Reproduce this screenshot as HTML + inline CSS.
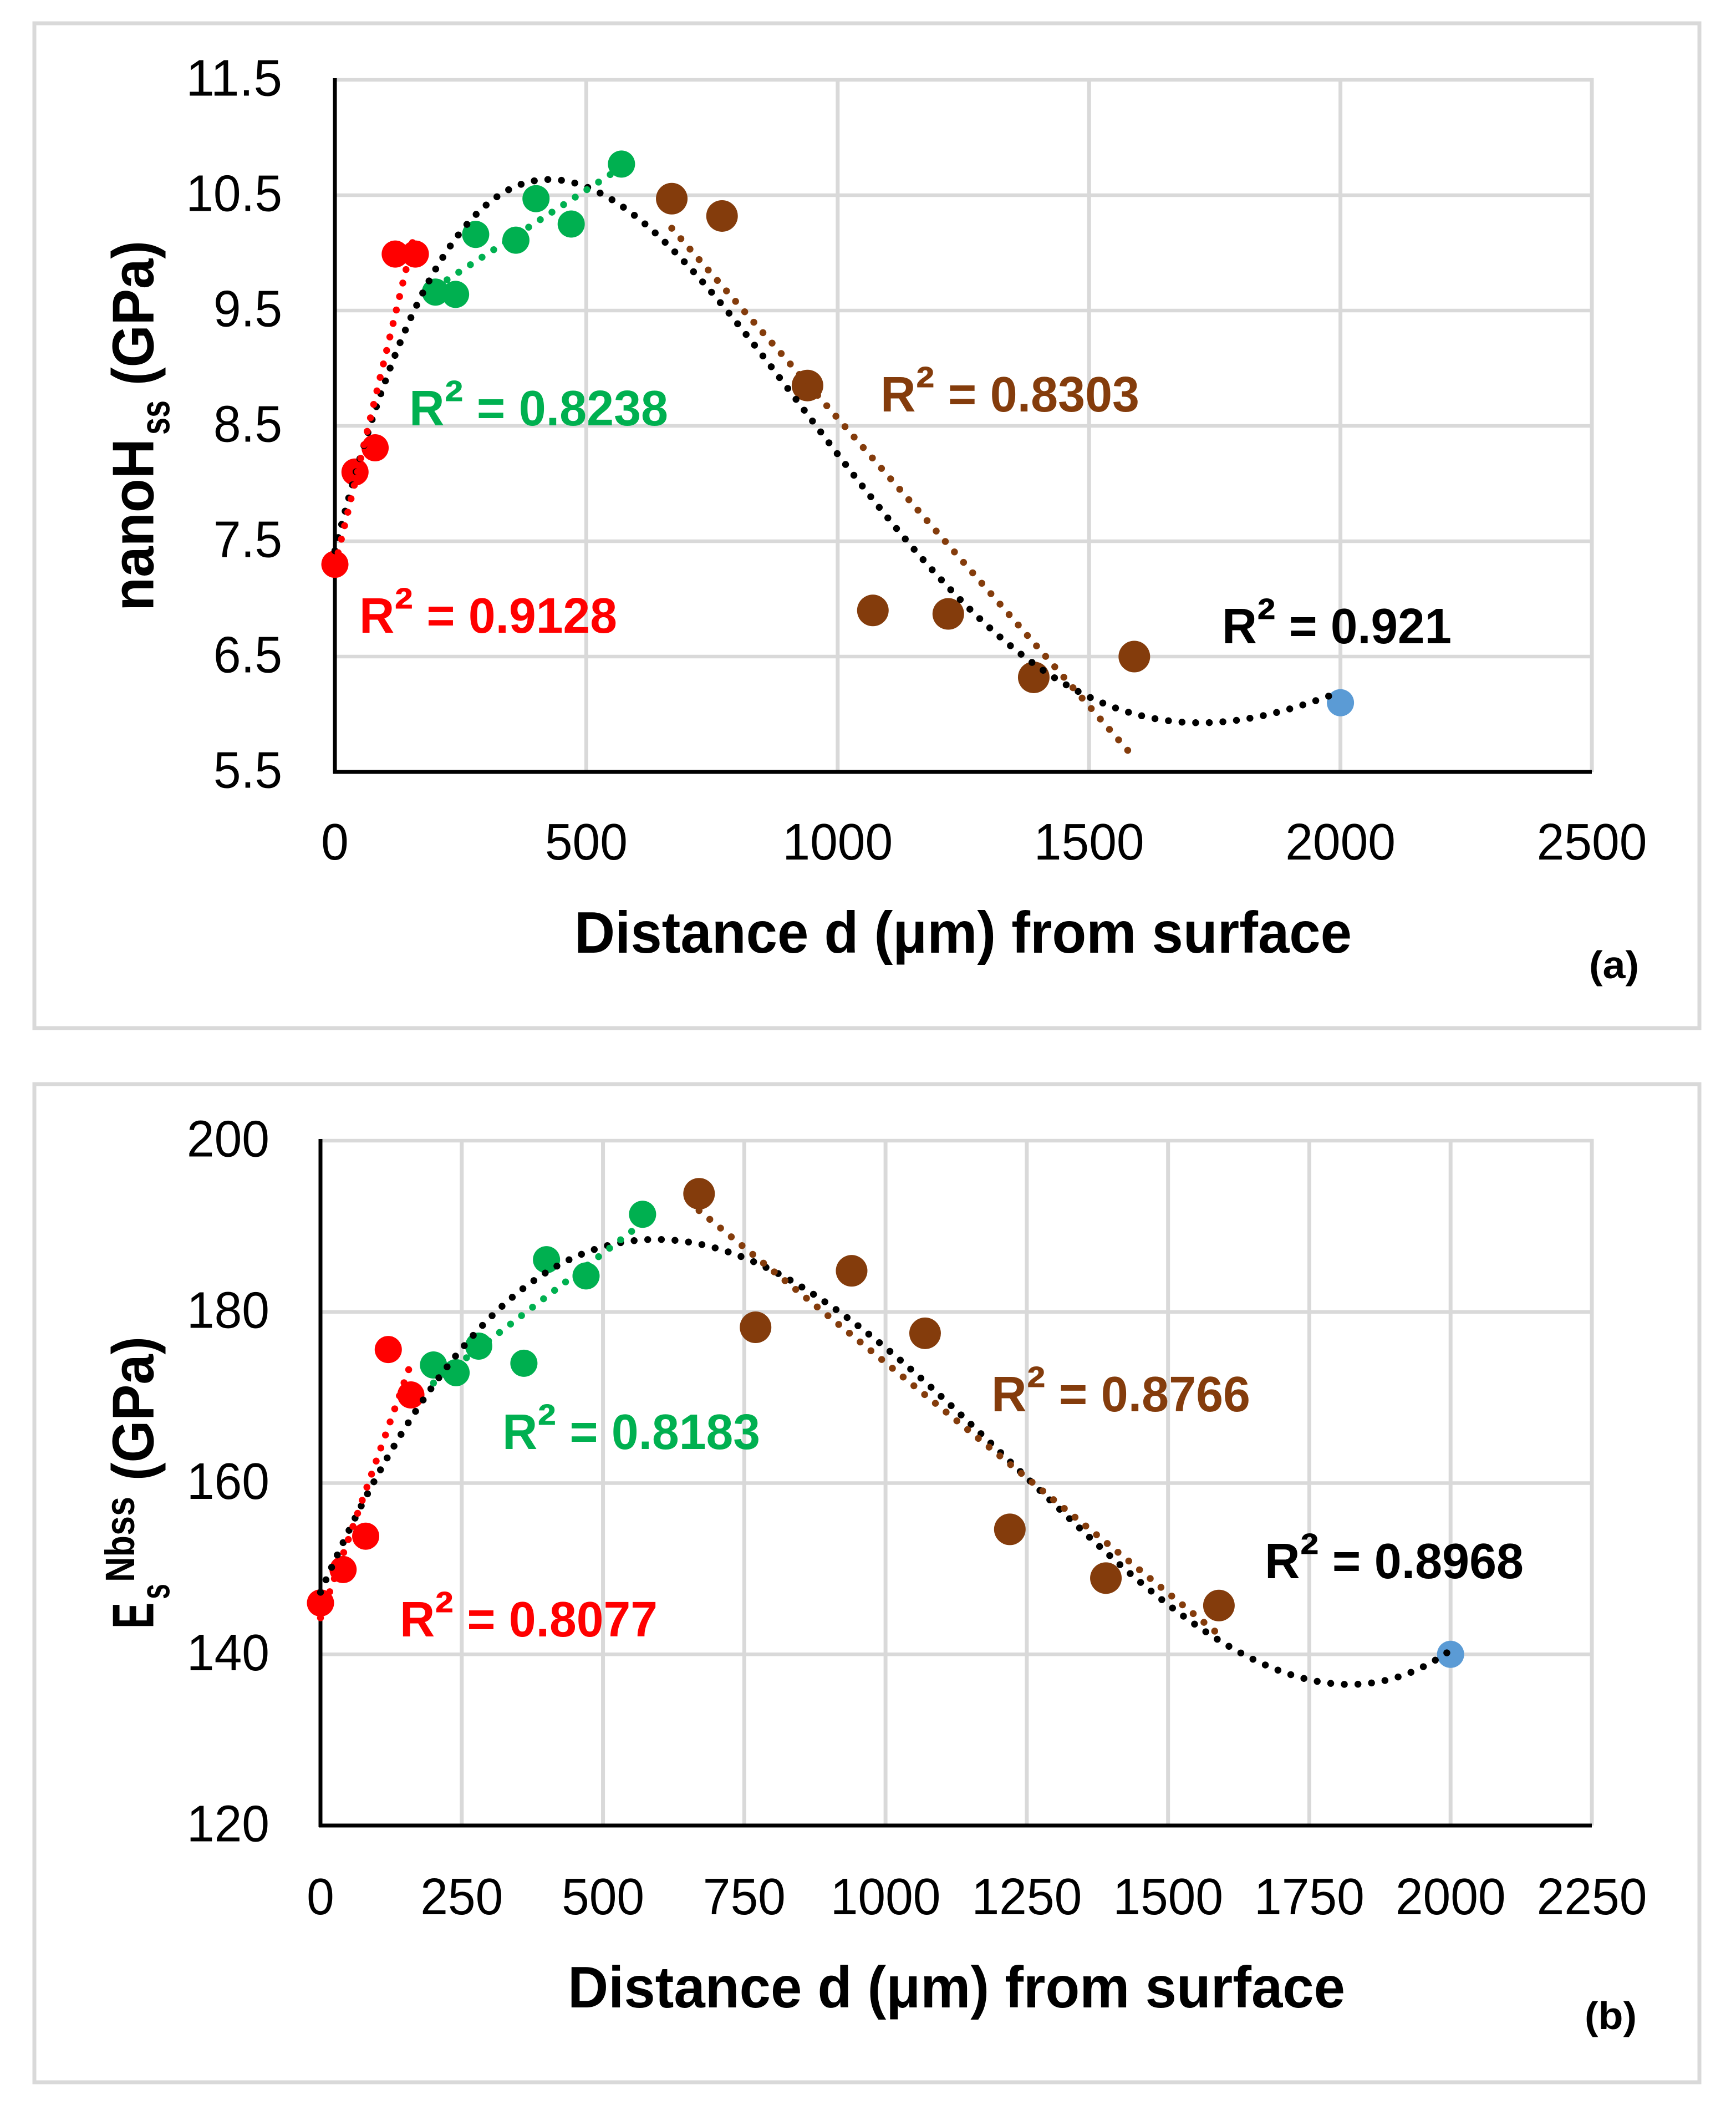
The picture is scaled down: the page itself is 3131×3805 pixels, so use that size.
<!DOCTYPE html>
<html lang="en">
<head>
<meta charset="utf-8">
<title>Nano-hardness and modulus versus distance from surface</title>
<style>
html,body{margin:0;padding:0;background:#fff;}
svg{display:block;}
text{font-family:"Liberation Sans",Arial,sans-serif;white-space:pre;}
.r2{font-size:90px;font-weight:bold;}
.ttl{font-size:106px;font-weight:bold;fill:#000;}
.sub{font-size:74px;font-weight:bold;fill:#000;}
.tag{font-size:70px;font-weight:bold;fill:#000;}
.tick{font-size:93px;fill:#000;}
</style>
</head>
<body>
<svg id="figure" xmlns="http://www.w3.org/2000/svg" width="3131" height="3805" viewBox="0 0 3131 3805">
  <rect x="0" y="0" width="3131" height="3805" fill="#ffffff"/>
  <rect x="62" y="42" width="3003" height="1812" fill="#fff" stroke="#d9d9d9" stroke-width="7"/>
  <rect x="62" y="1955" width="3003" height="1800" fill="#fff" stroke="#d9d9d9" stroke-width="7"/>

  <g id="panel-a"></g>
  <g id="panel-b"></g>

  <!-- Panel a text -->
  <text class="ttl" transform="translate(276.5,1102) rotate(-90)" textLength="311" lengthAdjust="spacingAndGlyphs">nanoH</text>
  <text class="sub" transform="translate(305.5,784) rotate(-90)" textLength="62" lengthAdjust="spacingAndGlyphs">ss</text>
  <text class="ttl" transform="translate(276.5,695) rotate(-90)" textLength="261" lengthAdjust="spacingAndGlyphs">(GPa)</text>
  <text class="ttl" x="1036" y="1718" textLength="1402" lengthAdjust="spacingAndGlyphs">Distance d (μm) from surface</text>
  <text class="r2" fill="#00b050" x="738" y="767" textLength="467" lengthAdjust="spacingAndGlyphs">R<tspan font-size="104" dy="-8">²</tspan><tspan dy="8"> = 0.8238</tspan></text>
  <text class="r2" fill="#ff0000" x="648" y="1141" textLength="465" lengthAdjust="spacingAndGlyphs">R<tspan font-size="104" dy="-8">²</tspan><tspan dy="8"> = 0.9128</tspan></text>
  <text class="r2" fill="#843c0c" x="1588" y="742" textLength="467" lengthAdjust="spacingAndGlyphs">R<tspan font-size="104" dy="-8">²</tspan><tspan dy="8"> = 0.8303</tspan></text>
  <text class="r2" fill="#000000" x="2204" y="1160" textLength="414" lengthAdjust="spacingAndGlyphs">R<tspan font-size="104" dy="-8">²</tspan><tspan dy="8"> = 0.921</tspan></text>
  <text class="tag" x="2866" y="1764" textLength="90" lengthAdjust="spacingAndGlyphs">(a)</text>

  <!-- Panel b text -->
  <text class="ttl" transform="translate(276.5,2937) rotate(-90)" textLength="47" lengthAdjust="spacingAndGlyphs">E</text>
  <text class="sub" transform="translate(305.5,2884) rotate(-90)" textLength="28" lengthAdjust="spacingAndGlyphs">s</text>
  <text class="sub" transform="translate(242,2853) rotate(-90)" textLength="154" lengthAdjust="spacingAndGlyphs">Nbss</text>
  <text class="ttl" transform="translate(276.5,2670) rotate(-90)" textLength="260" lengthAdjust="spacingAndGlyphs">(GPa)</text>
  <text class="ttl" x="1024" y="3620" textLength="1402" lengthAdjust="spacingAndGlyphs">Distance d (μm) from surface</text>
  <text class="r2" fill="#00b050" x="906" y="2613" textLength="465" lengthAdjust="spacingAndGlyphs">R<tspan font-size="104" dy="-8">²</tspan><tspan dy="8"> = 0.8183</tspan></text>
  <text class="r2" fill="#ff0000" x="721" y="2951" textLength="465" lengthAdjust="spacingAndGlyphs">R<tspan font-size="104" dy="-8">²</tspan><tspan dy="8"> = 0.8077</tspan></text>
  <text class="r2" fill="#843c0c" x="1788" y="2545" textLength="467" lengthAdjust="spacingAndGlyphs">R<tspan font-size="104" dy="-8">²</tspan><tspan dy="8"> = 0.8766</tspan></text>
  <text class="r2" fill="#000000" x="2281" y="2846" textLength="467" lengthAdjust="spacingAndGlyphs">R<tspan font-size="104" dy="-8">²</tspan><tspan dy="8"> = 0.8968</tspan></text>
  <text class="tag" x="2858" y="3659" textLength="94" lengthAdjust="spacingAndGlyphs">(b)</text>
</svg>

<script>
// Shared distance positions (µm)
const redDistance = [0, 40, 80, 120, 160];
const greenDistanceA = [200, 240, 280, 360, 400, 470, 570];
const brownDistance = [670, 770, 940, 1070, 1220, 1390, 1590];
const blueDistance = [2000];
const greenDistanceB = [200, 240, 280, 360, 400, 470, 570];

// Panel (a) values: nanoHss (GPa)
const aRedValues = [7.3, 8.1, 8.31, 9.99, 9.99];
const aGreenValues = [9.66, 9.64, 10.16, 10.11, 10.47, 10.25, 10.77];
const aBrownValues = [10.47, 10.32, 8.85, 6.9, 6.87, 6.32, 6.5];
const aBlueValues = [6.1];
const aBrownTrendShift = [0.07];
const aXTicks = ['0', '500', '1000', '1500', '2000', '2500'];
const aYTicks = ['5.5', '6.5', '7.5', '8.5', '9.5', '10.5', '11.5'];

// Panel (b) values: Es Nbss (GPa)
const bRedValues = [146, 149.9, 153.8, 175.6, 170.3];
const bGreenValues = [173.8, 172.9, 176, 174, 186.1, 184.2, 191.4];
const bBrownValues = [193.8, 178.2, 184.8, 177.5, 154.6, 148.9, 145.7];
const bBlueValues = [140];
const bXTicks = ['0', '250', '500', '750', '1000', '1250', '1500', '1750', '2000', '2250'];
const bYTicks = ['120', '140', '160', '180', '200'];

const NS = 'http://www.w3.org/2000/svg';
const RED = '#ff0000', GREEN = '#00b050', BROWN = '#843c0c', BLUE = '#5b9bd5';

function solve(A, b) {
  const n = b.length;
  for (let i = 0; i < n; i++) {
    let p = i;
    for (let r = i + 1; r < n; r++) if (Math.abs(A[r][i]) > Math.abs(A[p][i])) p = r;
    [A[i], A[p]] = [A[p], A[i]];
    [b[i], b[p]] = [b[p], b[i]];
    for (let r = i + 1; r < n; r++) {
      const f = A[r][i] / A[i][i];
      for (let c = i; c < n; c++) A[r][c] -= f * A[i][c];
      b[r] -= f * b[i];
    }
  }
  const out = new Array(n).fill(0);
  for (let i = n - 1; i >= 0; i--) {
    let s = b[i];
    for (let c = i + 1; c < n; c++) s -= A[i][c] * out[c];
    out[i] = s / A[i][i];
  }
  return out;
}

// Least-squares polynomial trendline computed from the plotted data
function polyFit(xs, ys, order) {
  const k = 1000;
  const n = order + 1;
  const A = [], b = [];
  for (let i = 0; i < n; i++) {
    A.push(new Array(n).fill(0));
    b.push(0);
  }
  xs.forEach((x0, idx) => {
    const x = x0 / k;
    for (let i = 0; i < n; i++) {
      for (let j = 0; j < n; j++) A[i][j] += Math.pow(x, i + j);
      b[i] += ys[idx] * Math.pow(x, i);
    }
  });
  const c = solve(A, b);
  return d => c.reduce((s, ci, i) => s + ci * Math.pow(d / k, i), 0);
}

function tickWidth(label) {
  let w = 0;
  for (const ch of label) w += ch === '.' ? 24.7 : 49.7;
  return w;
}

function drawPanel(cfg) {
  const root = document.getElementById(cfg.id);
  const p = cfg.id;
  const xMin = Number(cfg.xTicks[0]);
  const xMax = Number(cfg.xTicks[cfg.xTicks.length - 1]);
  const yMin = Number(cfg.yTicks[0]);
  const yMax = Number(cfg.yTicks[cfg.yTicks.length - 1]);
  const xOf = d => cfg.left + (d - xMin) / (xMax - xMin) * (cfg.right - cfg.left);
  const yOf = v => cfg.bottom - (v - yMin) / (yMax - yMin) * (cfg.bottom - cfg.top);

  // Gridlines
  cfg.xTicks.forEach(t => {
    if (Number(t) === xMin) return;
    const ln = document.createElementNS(NS, 'line');
    
    
    ln.setAttribute('x1', xOf(Number(t)));
    ln.setAttribute('x2', xOf(Number(t)));
    ln.setAttribute('y1', cfg.top - 3);
    ln.setAttribute('y2', cfg.bottom);
    ln.setAttribute('stroke', '#d9d9d9');
    ln.setAttribute('stroke-width', 7);
    root.appendChild(ln);
  });
  cfg.yTicks.forEach(t => {
    if (Number(t) === yMin) return;
    const ln = document.createElementNS(NS, 'line');
    
    
    ln.setAttribute('x1', cfg.left);
    ln.setAttribute('x2', cfg.right + 3);
    ln.setAttribute('y1', yOf(Number(t)));
    ln.setAttribute('y2', yOf(Number(t)));
    ln.setAttribute('stroke', '#d9d9d9');
    ln.setAttribute('stroke-width', 6.5);
    root.appendChild(ln);
  });

  // Axis lines
  const yAxis = document.createElementNS(NS, 'line');
  
  
  yAxis.setAttribute('x1', cfg.left);
  yAxis.setAttribute('x2', cfg.left);
  yAxis.setAttribute('y1', cfg.top - 3);
  yAxis.setAttribute('y2', cfg.bottom + 3);
  yAxis.setAttribute('stroke', '#000');
  yAxis.setAttribute('stroke-width', 7);
  root.appendChild(yAxis);

  const xAxis = document.createElementNS(NS, 'line');
  
  
  xAxis.setAttribute('x1', cfg.left - 3);
  xAxis.setAttribute('x2', cfg.right);
  xAxis.setAttribute('y1', cfg.bottom);
  xAxis.setAttribute('y2', cfg.bottom);
  xAxis.setAttribute('stroke', '#000');
  xAxis.setAttribute('stroke-width', 7);
  root.appendChild(xAxis);

  // Tick labels
  cfg.xTicks.forEach(t => {
    const w = tickWidth(t);
    const tx = document.createElementNS(NS, 'text');
    
    
    tx.setAttribute('class', 'tick');
    tx.setAttribute('x', xOf(Number(t)) - w / 2);
    tx.setAttribute('y', cfg.xTickBaseline);
    tx.setAttribute('textLength', w);
    tx.setAttribute('lengthAdjust', 'spacingAndGlyphs');
    tx.textContent = t;
    root.appendChild(tx);
  });
  cfg.yTicks.forEach(t => {
    const w = tickWidth(t);
    const tx = document.createElementNS(NS, 'text');
    
    
    tx.setAttribute('class', 'tick');
    tx.setAttribute('x', cfg.yTickRight - w);
    tx.setAttribute('y', yOf(Number(t)) + 28.5);
    tx.setAttribute('textLength', w);
    tx.setAttribute('lengthAdjust', 'spacingAndGlyphs');
    tx.textContent = t;
    root.appendChild(tx);
  });

  // Data markers
  cfg.series.forEach(s => {
    s.xs.forEach((d, i) => {
      const c = document.createElementNS(NS, 'circle');
      
      
      c.setAttribute('cx', xOf(d));
      c.setAttribute('cy', yOf(s.ys[i]));
      c.setAttribute('r', s.r);
      c.setAttribute('fill', s.color);
      root.appendChild(c);
    });
  });

  // Trendlines: overall polynomial beneath, segment fits on top
  const allX = [], allY = [];
  cfg.series.forEach(s => {
    allX.push(...s.xs);
    allY.push(...s.ys);
  });
  const trends = [{name: 'overall', xs: allX, ys: allY, order: cfg.overallOrder, color: '#000000', shift: 0, gap: 24.6}];
  cfg.series.forEach(s => {
    if (s.xs.length > 1) trends.push({name: s.name, xs: s.xs, ys: s.ys, order: 1, color: s.color, shift: s.shift || 0, gap: 25});
  });
  trends.forEach(t => {
    const f = polyFit(t.xs, t.ys, t.order);
    const lo = Math.min(...t.xs), hi = Math.max(...t.xs);
    const steps = 200;
    let dStr = '';
    for (let i = 0; i <= steps; i++) {
      const d = lo + (hi - lo) * i / steps;
      const v = f(d) + t.shift;
      dStr += (i ? 'L' : 'M') + xOf(d).toFixed(2) + ' ' + yOf(v).toFixed(2);
    }
    const path = document.createElementNS(NS, 'path');
    
    
    path.setAttribute('d', dStr);
    path.setAttribute('fill', 'none');
    path.setAttribute('stroke', t.color);
    path.setAttribute('stroke-width', 12.5);
    path.setAttribute('stroke-linecap', 'round');
    path.setAttribute('stroke-dasharray', '0 ' + t.gap);
    root.appendChild(path);
  });
}

drawPanel({
  id: 'panel-a', left: 604, right: 2871, top: 144, bottom: 1392,
  xTicks: aXTicks, yTicks: aYTicks, xTickBaseline: 1550, yTickRight: 509, overallOrder: 4,
  series: [
    {name: 'red', xs: redDistance, ys: aRedValues, color: RED, r: 24.5},
    {name: 'green', xs: greenDistanceA, ys: aGreenValues, color: GREEN, r: 24.5},
    {name: 'brown', xs: brownDistance, ys: aBrownValues, color: BROWN, r: 28.5, shift: aBrownTrendShift[0]},
    {name: 'blue', xs: blueDistance, ys: aBlueValues, color: BLUE, r: 24.5}
  ]
});
drawPanel({
  id: 'panel-b', left: 578, right: 2871, top: 2057, bottom: 3292,
  xTicks: bXTicks, yTicks: bYTicks, xTickBaseline: 3452, yTickRight: 486, overallOrder: 4,
  series: [
    {name: 'red', xs: redDistance, ys: bRedValues, color: RED, r: 24.5},
    {name: 'green', xs: greenDistanceB, ys: bGreenValues, color: GREEN, r: 24.5},
    {name: 'brown', xs: brownDistance, ys: bBrownValues, color: BROWN, r: 28.5},
    {name: 'blue', xs: blueDistance, ys: bBlueValues, color: BLUE, r: 24.5}
  ]
});
</script>
</body>
</html>
